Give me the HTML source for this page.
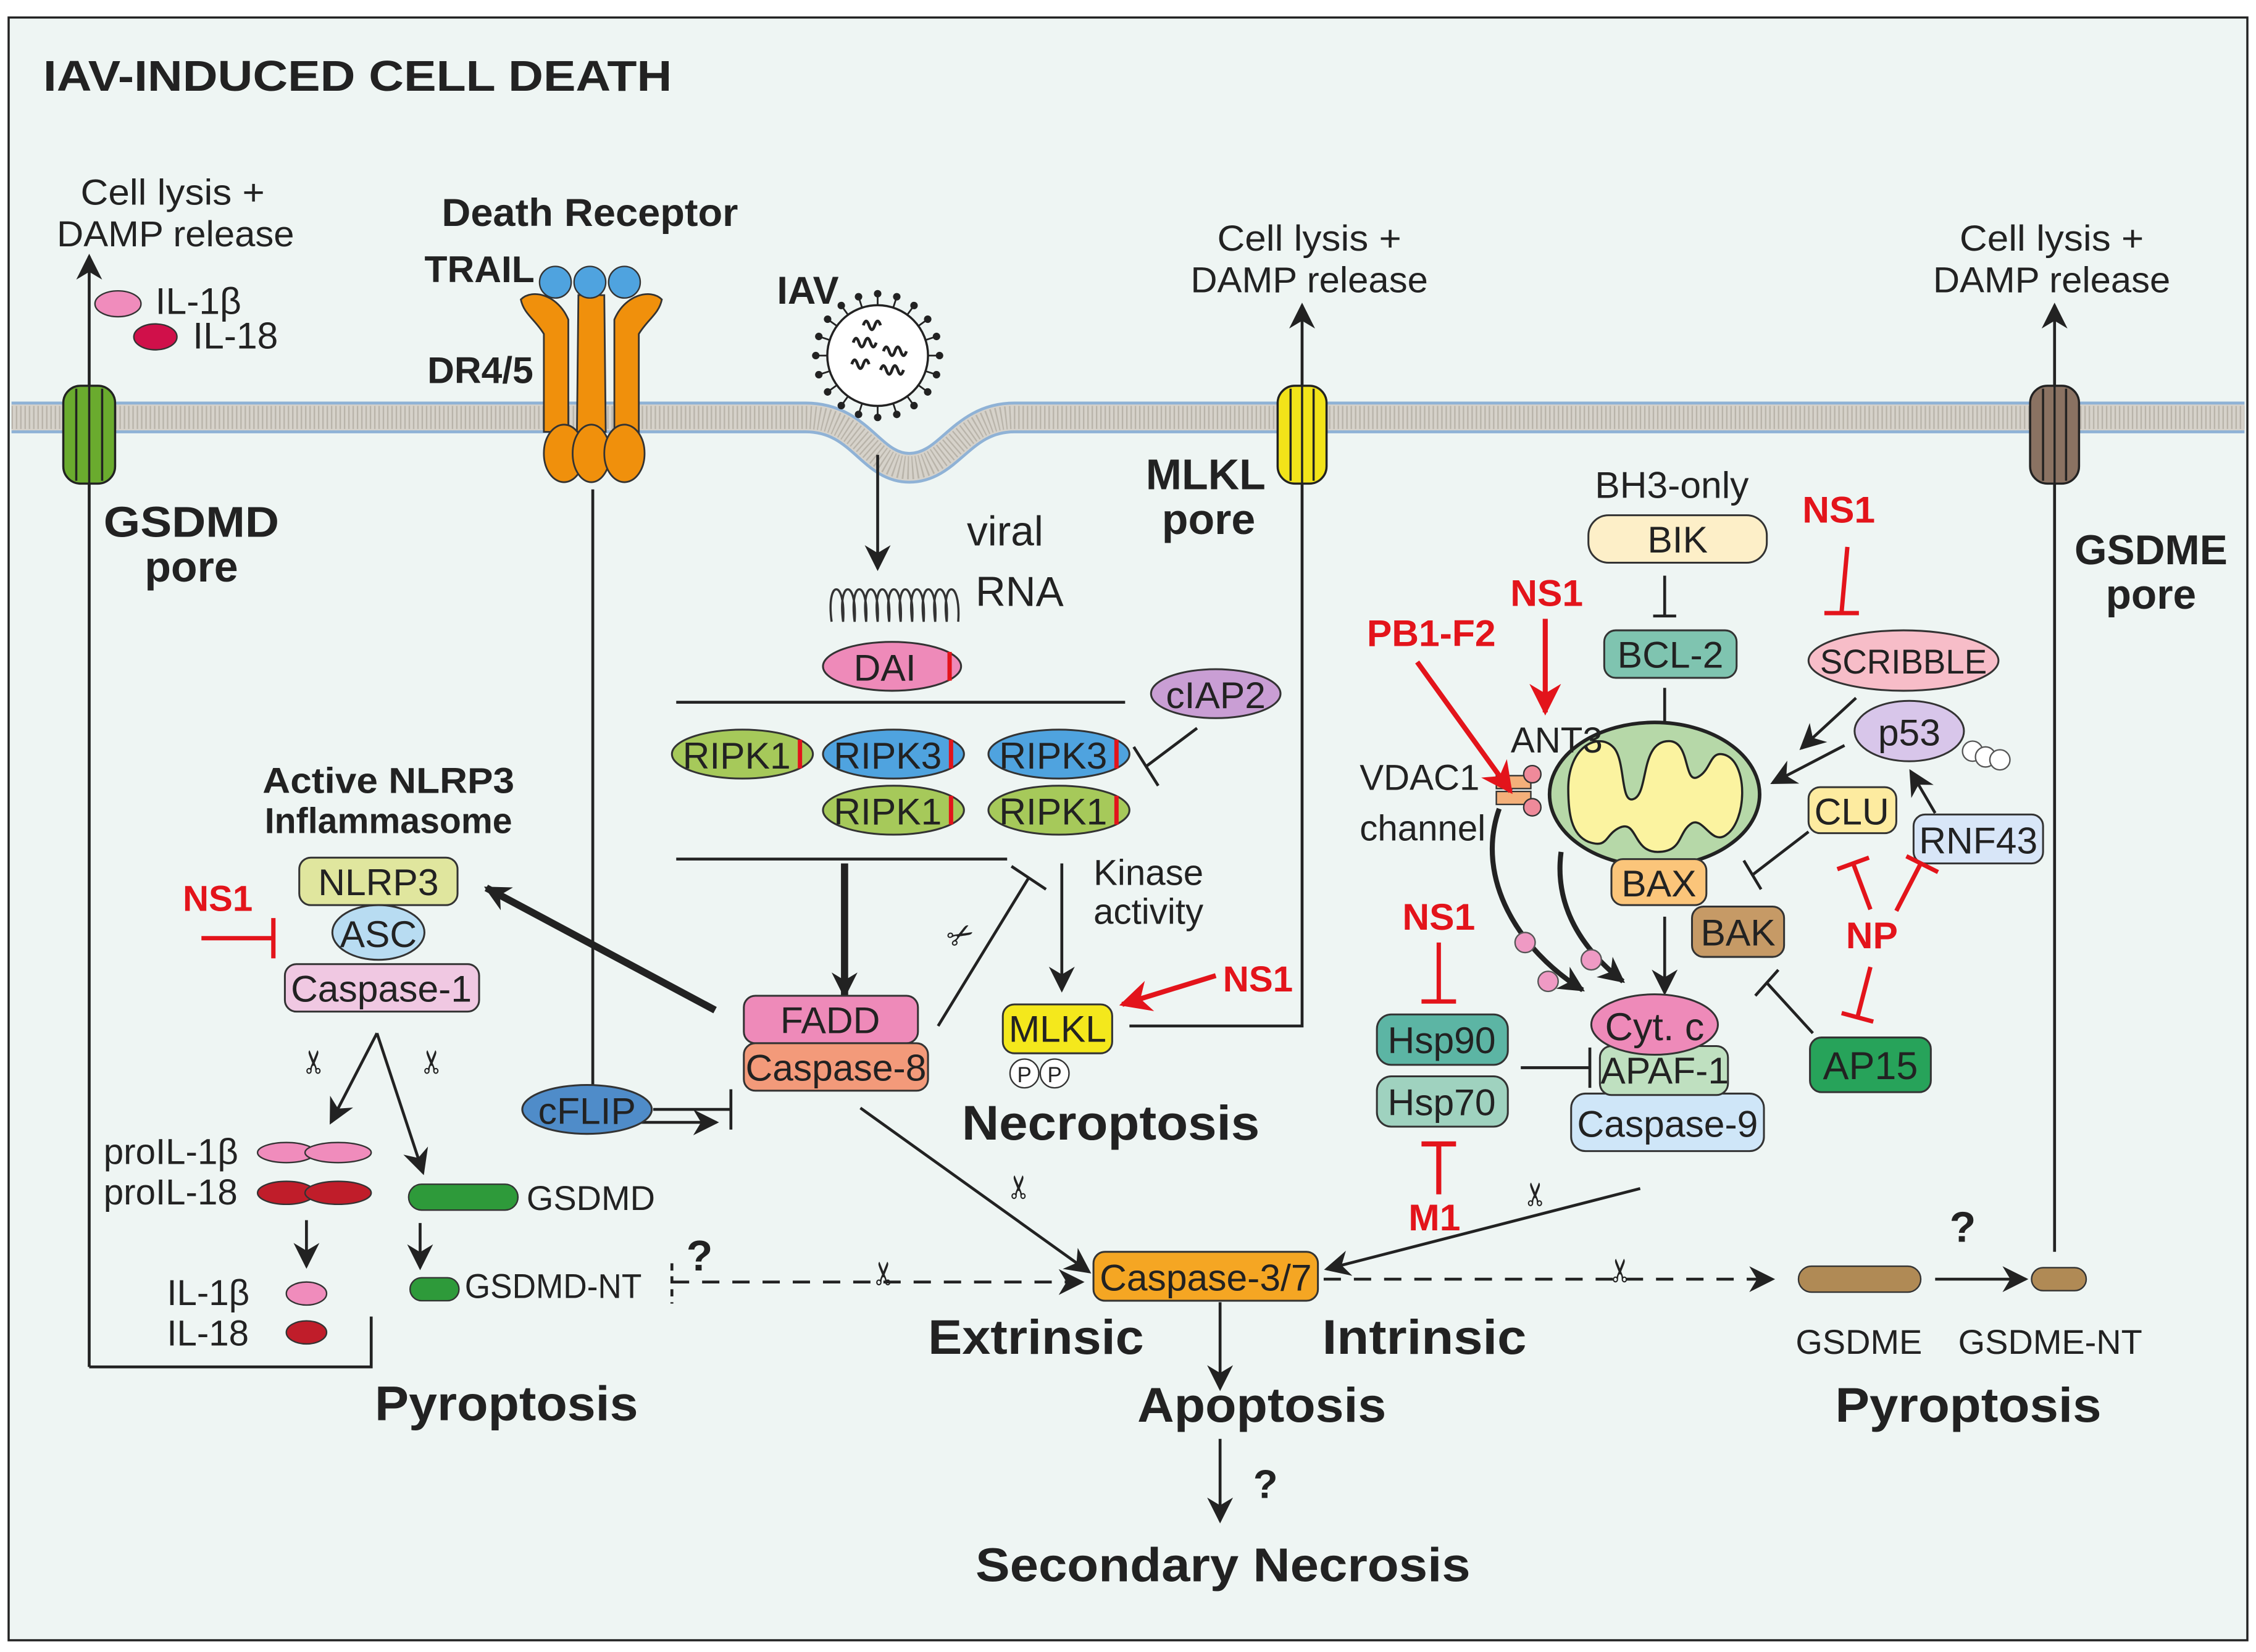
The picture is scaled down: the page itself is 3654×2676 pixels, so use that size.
<!DOCTYPE html>
<html><head><meta charset="utf-8"><style>
html,body{margin:0;padding:0;background:#fff}
svg{display:block}
text{font-family:"Liberation Sans Narrow","Liberation Sans",sans-serif;fill:#222}
.b{font-family:"Liberation Sans",sans-serif;font-weight:bold}
.r{fill:#e3141b;font-family:"Liberation Sans",sans-serif;font-weight:bold}
</style></head><body>
<svg width="3654" height="2676" viewBox="0 0 1568 1148" xmlns="http://www.w3.org/2000/svg">
<defs>
<marker id="A" viewBox="0 0 10 10" refX="9" refY="5" markerWidth="18" markerHeight="18" orient="auto" markerUnits="userSpaceOnUse"><path d="M0,0 L10,5 L0,10 L3,5 z" fill="#222"/></marker>
<marker id="R" viewBox="0 0 10 10" refX="9" refY="5" markerWidth="22" markerHeight="22" orient="auto" markerUnits="userSpaceOnUse"><path d="M0,0 L10,5 L0,10 L3,5 z" fill="#e3141b"/></marker>
</defs>
<rect x="0" y="0" width="1568" height="1148" fill="#fff"/>
<rect x="6" y="12" width="1556" height="1128" fill="#eef5f3" stroke="#222" stroke-width="1.5"/>
<text x="30" y="63" class="b" font-size="30" textLength="437" lengthAdjust="spacingAndGlyphs">IAV-INDUCED CELL DEATH</text>

<!-- membrane -->
<path d="M8,290 H560 C598,290 605,325 632,325 C660,325 668,290 705,290 H1560" fill="none" stroke="#8fb2d6" stroke-width="22"/>
<path d="M8,290 H560 C598,290 605,325 632,325 C660,325 668,290 705,290 H1560" fill="none" stroke="#d6d2ca" stroke-width="18"/>
<path d="M8,290 H560 C598,290 605,325 632,325 C660,325 668,290 705,290 H1560" fill="none" stroke="#b9b4aa" stroke-width="16" stroke-dasharray="1 2"/>

<g font-size="25" text-anchor="middle">
<text x="120" y="142" textLength="128" lengthAdjust="spacingAndGlyphs">Cell lysis +</text><text x="122" y="171" textLength="165" lengthAdjust="spacingAndGlyphs">DAMP release</text>
<text x="910" y="174" textLength="128" lengthAdjust="spacingAndGlyphs">Cell lysis +</text><text x="910" y="203" textLength="165" lengthAdjust="spacingAndGlyphs">DAMP release</text>
<text x="1426" y="174" textLength="128" lengthAdjust="spacingAndGlyphs">Cell lysis +</text><text x="1426" y="203" textLength="165" lengthAdjust="spacingAndGlyphs">DAMP release</text>
</g>
<ellipse cx="82" cy="211" rx="16" ry="9" fill="#f08cbc" stroke="#333"/>
<text x="108" y="218" font-size="26">IL-1β</text>
<ellipse cx="108" cy="234" rx="15" ry="9" fill="#d0104a" stroke="#333"/>
<text x="134" y="242" font-size="26">IL-18</text>

<g stroke="#222" stroke-width="2" fill="none">
<path d="M62,950 V178" marker-end="url(#A)"/>
<path d="M62,950 H258 V915"/>
<path d="M785,713 H905 V212" marker-end="url(#A)"/>
<path d="M1428,870 V212" marker-end="url(#A)"/>
<path d="M412,340 V780 H498" marker-end="url(#A)"/>
</g>

<g stroke="#222" stroke-width="1.5">
<rect x="44" y="268" width="36" height="68" rx="12" fill="#6aab2e"/>
<path d="M53,270V334M62,268V336M71,270V334" fill="none"/>
<rect x="888" y="268" width="34" height="68" rx="12" fill="#f2e319"/>
<path d="M897,270V334M905,268V336M913,270V334" fill="none"/>
<rect x="1411" y="268" width="34" height="68" rx="12" fill="#8a7262"/>
<path d="M1420,270V334M1428,268V336M1436,270V334" fill="none"/>
</g>
<text x="133" y="373" class="b" font-size="30" text-anchor="middle" textLength="122" lengthAdjust="spacingAndGlyphs">GSDMD</text>
<text x="133" y="404" class="b" font-size="30" text-anchor="middle">pore</text>
<text x="838" y="340" class="b" font-size="30" text-anchor="middle">MLKL</text>
<text x="840" y="371" class="b" font-size="30" text-anchor="middle">pore</text>
<text x="1495" y="392" class="b" font-size="29" text-anchor="middle">GSDME</text>
<text x="1495" y="423" class="b" font-size="29" text-anchor="middle">pore</text>

<text x="410" y="157" class="b" font-size="27" text-anchor="middle" textLength="206" lengthAdjust="spacingAndGlyphs">Death Receptor</text>
<text x="295" y="196" class="b" font-size="26">TRAIL</text>
<text x="297" y="266" class="b" font-size="26">DR4/5</text>
<g fill="#f0900c" stroke="#333" stroke-width="1.2">
<path d="M362,208 C370,200 388,205 395,222 L395,300 L378,300 L378,232 C372,222 364,218 362,208z"/>
<path d="M460,208 C452,200 434,205 427,222 L427,300 L444,300 L444,232 C450,222 458,218 460,208z"/>
<path d="M402,205 L420,205 L421,300 L401,300z"/>
<ellipse cx="392" cy="315" rx="14" ry="20"/><ellipse cx="411" cy="315" rx="13" ry="20"/><ellipse cx="434" cy="315" rx="14" ry="20"/>
</g>
<g fill="#4fa3df" stroke="#333"><circle cx="386" cy="196" r="11"/><circle cx="410" cy="196" r="11"/><circle cx="434" cy="196" r="11"/></g>

<text x="540" y="211" class="b" font-size="27">IAV</text>
<g stroke="#222" stroke-width="1.2" fill="#222">
<circle cx="610" cy="247" r="35" fill="#fff" stroke-width="1.5"/>
<g id="sp"><line x1="610" y1="205" x2="610" y2="212"/><circle cx="610" cy="204" r="2"/></g>
<use href="#sp" transform="rotate(18 610 247)"/><use href="#sp" transform="rotate(36 610 247)"/><use href="#sp" transform="rotate(54 610 247)"/><use href="#sp" transform="rotate(72 610 247)"/><use href="#sp" transform="rotate(90 610 247)"/><use href="#sp" transform="rotate(108 610 247)"/><use href="#sp" transform="rotate(126 610 247)"/><use href="#sp" transform="rotate(144 610 247)"/><use href="#sp" transform="rotate(162 610 247)"/><use href="#sp" transform="rotate(180 610 247)"/><use href="#sp" transform="rotate(198 610 247)"/><use href="#sp" transform="rotate(216 610 247)"/><use href="#sp" transform="rotate(234 610 247)"/><use href="#sp" transform="rotate(252 610 247)"/><use href="#sp" transform="rotate(270 610 247)"/><use href="#sp" transform="rotate(288 610 247)"/><use href="#sp" transform="rotate(306 610 247)"/><use href="#sp" transform="rotate(324 610 247)"/><use href="#sp" transform="rotate(342 610 247)"/>
<path d="M593,238 q2,-6 4,0 q2,6 4,0 q2,-6 4,0 q2,6 4,0 M600,226 q2,-6 4,0 q2,6 4,0 q2,-6 4,0 M614,244 q2,-6 4,0 q2,6 4,0 q2,-6 4,0 q2,6 4,0 M592,253 q2,-6 4,0 q2,6 4,0 q2,-6 4,0 M612,257 q2,-6 4,0 q2,6 4,0 q2,-6 4,0 q2,6 4,0" fill="none" stroke-width="2"/>
</g>
<path d="M610,316 V395" stroke="#222" stroke-width="2" marker-end="url(#A)"/>
<text x="672" y="379" font-size="29">viral</text>
<text x="678" y="421" font-size="29">RNA</text>
<path d="M578,432 c-4,-30 10,-30 8,0 c-4,-30 10,-30 8,0 c-4,-30 10,-30 8,0 c-4,-30 10,-30 8,0 c-4,-30 10,-30 8,0 c-4,-30 10,-30 8,0 c-4,-30 10,-30 8,0 c-4,-30 10,-30 8,0 c-4,-30 10,-30 8,0 c-4,-30 10,-30 8,0 c-4,-30 10,-30 8,0" fill="none" stroke="#333" stroke-width="1.5"/>
<ellipse cx="620" cy="463" rx="48" ry="17" fill="#ee8ab9" stroke="#333" stroke-width="1.3"/>
<line x1="660" y1="453" x2="660" y2="473" stroke="#e3141b" stroke-width="3"/>
<text x="615" y="473" font-size="26" text-anchor="middle">DAI</text>

<line x1="470" y1="488" x2="782" y2="488" stroke="#222" stroke-width="2"/>
<line x1="470" y1="597" x2="700" y2="597" stroke="#222" stroke-width="2"/>

<g stroke="#333" stroke-width="1.3">
<ellipse cx="516" cy="524" rx="49" ry="17" fill="#a6c95a"/>
<ellipse cx="621" cy="524" rx="49" ry="17" fill="#4fa3df"/>
<ellipse cx="736" cy="524" rx="49" ry="17" fill="#4fa3df"/>
<ellipse cx="621" cy="563" rx="49" ry="17" fill="#a6c95a"/>
<ellipse cx="736" cy="563" rx="49" ry="17" fill="#a6c95a"/>
</g>
<g stroke="#e3141b" stroke-width="3"><line x1="556" y1="514" x2="556" y2="534"/><line x1="661" y1="514" x2="661" y2="534"/><line x1="776" y1="514" x2="776" y2="534"/><line x1="661" y1="553" x2="661" y2="573"/><line x1="776" y1="553" x2="776" y2="573"/></g>
<g font-size="26" text-anchor="middle"><text x="512" y="534">RIPK1</text><text x="617" y="534">RIPK3</text><text x="732" y="534">RIPK3</text><text x="617" y="573">RIPK1</text><text x="732" y="573">RIPK1</text></g>
<ellipse cx="845" cy="482" rx="45" ry="17" fill="#c99ed4" stroke="#333" stroke-width="1.3"/>
<text x="845" y="492" font-size="26" text-anchor="middle">cIAP2</text>
<g stroke="#222" stroke-width="2" fill="none">
<path d="M832,506 L796,533"/><path d="M788,519 L805,546"/>
<path d="M587,600 V692" stroke-width="5" marker-end="url(#A)"/>
<path d="M652,713 L715,610"/><path d="M703,602 L727,618"/>
<path d="M738,600 V688" marker-end="url(#A)"/>
</g>
<text x="760" y="615" font-size="25">Kinase</text>
<text x="760" y="642" font-size="25">activity</text>
<text x="660" y="662" font-size="22" transform="rotate(-30 660 655)">✂</text>

<rect x="697" y="698" width="76" height="34" rx="8" fill="#f4e81c" stroke="#333" stroke-width="1.3"/>
<text x="735" y="724" font-size="26" text-anchor="middle">MLKL</text>
<circle cx="712" cy="746" r="10" fill="#fff" stroke="#333"/><circle cx="733" cy="746" r="10" fill="#fff" stroke="#333"/>
<text x="712" y="752" font-size="15" text-anchor="middle">P</text><text x="733" y="752" font-size="15" text-anchor="middle">P</text>
<text x="772" y="792" class="b" font-size="34" text-anchor="middle" textLength="207" lengthAdjust="spacingAndGlyphs">Necroptosis</text>
<path d="M845,678 L780,698" stroke="#e3141b" stroke-width="3.5" marker-end="url(#R)"/>
<text x="850" y="689" class="r" font-size="25">NS1</text>

<text x="270" y="551" class="b" font-size="25" text-anchor="middle" textLength="175" lengthAdjust="spacingAndGlyphs">Active NLRP3</text>
<text x="270" y="579" class="b" font-size="25" text-anchor="middle" textLength="172" lengthAdjust="spacingAndGlyphs">Inflammasome</text>
<rect x="208" y="596" width="110" height="33" rx="8" fill="#e0e69e" stroke="#333" stroke-width="1.3"/>
<ellipse cx="263" cy="648" rx="32" ry="19" fill="#b8dcf2" stroke="#333" stroke-width="1.3"/>
<rect x="198" y="670" width="135" height="33" rx="8" fill="#f0c8e2" stroke="#333" stroke-width="1.3"/>
<g font-size="26" text-anchor="middle"><text x="263" y="622">NLRP3</text><text x="263" y="658">ASC</text><text x="265" y="696">Caspase-1</text></g>
<text x="127" y="633" class="r" font-size="25">NS1</text>
<path d="M140,652 H190 M190,638 V666" stroke="#e3141b" stroke-width="3" fill="none"/>
<path d="M497,702 L338,617" stroke="#222" stroke-width="5" marker-end="url(#A)"/>
<g stroke="#222" stroke-width="2" fill="none">
<path d="M262,718 L230,780" marker-end="url(#A)"/>
<path d="M262,718 L294,815" marker-end="url(#A)"/>
<path d="M213,848 V880" marker-end="url(#A)"/>
<path d="M292,850 V881" marker-end="url(#A)"/>
</g>
<text x="218" y="746" font-size="22" text-anchor="middle" transform="rotate(-90 218 738)">✂</text>
<text x="300" y="746" font-size="22" text-anchor="middle" transform="rotate(-90 300 738)">✂</text>
<text x="72" y="809" font-size="25">proIL-1β</text>
<text x="72" y="837" font-size="25">proIL-18</text>
<g stroke="#333"><ellipse cx="199" cy="801" rx="20" ry="7" fill="#f08cbc"/><ellipse cx="235" cy="801" rx="23" ry="7" fill="#f08cbc"/>
<ellipse cx="199" cy="829" rx="20" ry="8" fill="#c01d2a"/><ellipse cx="235" cy="829" rx="23" ry="8" fill="#c01d2a"/>
<ellipse cx="213" cy="899" rx="14" ry="8" fill="#f08cbc"/><ellipse cx="213" cy="926" rx="14" ry="8" fill="#c01d2a"/>
<rect x="284" y="823" width="76" height="18" rx="9" fill="#2e9a3a"/>
<rect x="285" y="888" width="34" height="16" rx="8" fill="#2e9a3a"/>
<rect x="1250" y="880" width="85" height="18" rx="9" fill="#b08a55"/>
<rect x="1412" y="881" width="38" height="16" rx="8" fill="#b08a55"/></g>
<text x="116" y="907" font-size="25">IL-1β</text>
<text x="116" y="935" font-size="25">IL-18</text>
<text x="366" y="841" font-size="24">GSDMD</text>
<text x="323" y="902" font-size="24" textLength="123" lengthAdjust="spacingAndGlyphs">GSDMD-NT</text>
<text x="477" y="883" class="b" font-size="30">?</text>
<path d="M467,878 V906" stroke="#222" stroke-width="2" stroke-dasharray="5 4"/>
<path d="M467,891 H752" stroke="#222" stroke-width="2" stroke-dasharray="12 9" marker-end="url(#A)"/>
<text x="613" y="894" font-size="22" text-anchor="middle" transform="rotate(-90 613 885)">✂</text>
<text x="352" y="987" class="b" font-size="34" text-anchor="middle" textLength="183" lengthAdjust="spacingAndGlyphs">Pyroptosis</text>

<rect x="517" y="692" width="121" height="33" rx="8" fill="#ee8ab9" stroke="#333" stroke-width="1.3"/>
<rect x="517" y="725" width="128" height="33" rx="8" fill="#f39a7a" stroke="#333" stroke-width="1.3"/>
<text x="577" y="718" font-size="26" text-anchor="middle">FADD</text>
<text x="581" y="751" font-size="26" text-anchor="middle">Caspase-8</text>
<ellipse cx="408" cy="771" rx="45" ry="17" fill="#4f8cc9" stroke="#333" stroke-width="1.3"/>
<text x="408" y="781" font-size="26" text-anchor="middle">cFLIP</text>
<g stroke="#222" stroke-width="2" fill="none">
<path d="M454,771 H508 M508,757 V785"/>
<path d="M598,770 L757,884" marker-end="url(#A)"/>
<path d="M848,905 V965" marker-end="url(#A)"/>
<path d="M848,1000 V1057" marker-end="url(#A)"/>
<path d="M1345,889 H1408" marker-end="url(#A)"/>
<path d="M1140,826 L922,882" marker-end="url(#A)"/>
</g>
<text x="707" y="834" font-size="22" text-anchor="middle" transform="rotate(-90 707 825)">✂</text>
<text x="1066" y="839" font-size="22" text-anchor="middle" transform="rotate(-90 1066 830)">✂</text>
<path d="M920,889 H1232" stroke="#222" stroke-width="2" stroke-dasharray="12 9" marker-end="url(#A)"/>
<text x="1125" y="892" font-size="22" text-anchor="middle" transform="rotate(-90 1125 883)">✂</text>
<rect x="760" y="870" width="156" height="34" rx="8" fill="#f5a623" stroke="#333" stroke-width="1.3"/>
<text x="838" y="897" font-size="26" text-anchor="middle">Caspase-3/7</text>
<text x="720" y="941" class="b" font-size="34" text-anchor="middle" textLength="150" lengthAdjust="spacingAndGlyphs">Extrinsic</text>
<text x="990" y="941" class="b" font-size="34" text-anchor="middle" textLength="142" lengthAdjust="spacingAndGlyphs">Intrinsic</text>
<text x="877" y="988" class="b" font-size="34" text-anchor="middle" textLength="173" lengthAdjust="spacingAndGlyphs">Apoptosis</text>
<text x="871" y="1041" class="b" font-size="28">?</text>
<text x="850" y="1099" class="b" font-size="33" text-anchor="middle" textLength="344" lengthAdjust="spacingAndGlyphs">Secondary Necrosis</text>
<text x="1355" y="863" class="b" font-size="30">?</text>
<text x="1292" y="941" font-size="24" text-anchor="middle">GSDME</text>
<text x="1425" y="941" font-size="24" text-anchor="middle">GSDME-NT</text>
<text x="1368" y="988" class="b" font-size="34" text-anchor="middle" textLength="185" lengthAdjust="spacingAndGlyphs">Pyroptosis</text>

<text x="1162" y="346" font-size="26" text-anchor="middle">BH3-only</text>
<rect x="1104" y="358" width="124" height="33" rx="14" fill="#fdefc8" stroke="#333" stroke-width="1.3"/>
<text x="1166" y="384" font-size="26" text-anchor="middle">BIK</text>
<rect x="1115" y="438" width="92" height="33" rx="8" fill="#7fc4b0" stroke="#333" stroke-width="1.3"/>
<text x="1161" y="464" font-size="26" text-anchor="middle">BCL-2</text>
<g stroke="#222" stroke-width="2" fill="none">
<path d="M1157,400 V428 M1149,428 H1165"/>
<path d="M1157,478 V505 M1149,505 H1165"/>
<path d="M1290,485 L1252,520" marker-end="url(#A)"/>
<path d="M1282,518 L1232,544" marker-end="url(#A)"/>
<path d="M1345,565 L1328,536" marker-end="url(#A)"/>
<path d="M1257,578 L1218,608 M1212,598 L1224,618"/>
<path d="M1260,718 L1228,683 M1220,692 L1236,674"/>
<path d="M1157,637 V690" marker-end="url(#A)"/>
<path d="M1057,742 H1105 M1105,728 V756"/>
<path d="M1042,562 C1025,610 1055,660 1100,688" stroke-width="3.5" marker-end="url(#A)"/>
<path d="M1085,592 C1080,630 1100,660 1128,682" stroke-width="3.5" marker-end="url(#A)"/>
</g>
<text x="1278" y="363" class="r" font-size="26" text-anchor="middle">NS1</text>
<path d="M1284,380 L1280,425 M1268,426 H1292" stroke="#e3141b" stroke-width="3" fill="none"/>
<ellipse cx="1323" cy="459" rx="66" ry="21" fill="#f7bdc8" stroke="#333" stroke-width="1.3"/>
<text x="1323" y="468" font-size="24" text-anchor="middle" textLength="116" lengthAdjust="spacingAndGlyphs">SCRIBBLE</text>
<circle cx="1371" cy="522" r="7" fill="#fff" stroke="#555"/><circle cx="1380" cy="526" r="7" fill="#fff" stroke="#555"/><circle cx="1390" cy="528" r="7" fill="#fff" stroke="#555"/>
<ellipse cx="1327" cy="508" rx="38" ry="21" fill="#d8c6ea" stroke="#333" stroke-width="1.3"/>
<text x="1327" y="518" font-size="26" text-anchor="middle">p53</text>
<ellipse cx="1150" cy="552" rx="73" ry="50" fill="#b6d8a8" stroke="#222" stroke-width="2.5"/>
<path d="M1090,548 C1090,518 1112,508 1122,520 C1130,530 1126,560 1136,555 C1146,550 1140,515 1160,515 C1175,515 1170,545 1180,540 C1190,535 1188,520 1200,525 C1215,532 1214,570 1200,580 C1190,588 1184,568 1176,572 C1166,578 1170,592 1152,592 C1135,592 1138,570 1126,575 C1115,580 1118,590 1104,585 C1092,580 1090,565 1090,548z" fill="#fbf3a0" stroke="#222" stroke-width="1.5"/>
<g stroke="#333" stroke-width="1"><rect x="1040" y="539" width="24" height="9" fill="#f4b07a"/><rect x="1040" y="550" width="24" height="9" fill="#f4b07a"/><circle cx="1065" cy="538" r="6" fill="#ef8a9a"/><circle cx="1065" cy="561" r="6" fill="#ef8a9a"/></g>
<text x="945" y="549" font-size="25">VDAC1</text>
<text x="945" y="584" font-size="25">channel</text>
<text x="1050" y="523" font-size="25">ANT3</text>
<text x="950" y="449" class="r" font-size="26">PB1-F2</text>
<path d="M985,460 L1050,550" stroke="#e3141b" stroke-width="3.5" marker-end="url(#R)"/>
<text x="1075" y="421" class="r" font-size="26" text-anchor="middle">NS1</text>
<path d="M1074,430 V495" stroke="#e3141b" stroke-width="3.5" marker-end="url(#R)"/>
<rect x="1257" y="547" width="61" height="32" rx="8" fill="#fdeba0" stroke="#333" stroke-width="1.3"/>
<text x="1287" y="573" font-size="26" text-anchor="middle">CLU</text>
<rect x="1330" y="566" width="90" height="34" rx="8" fill="#d8e6f8" stroke="#333" stroke-width="1.3"/>
<text x="1375" y="593" font-size="26" text-anchor="middle">RNF43</text>
<rect x="1120" y="597" width="66" height="32" rx="8" fill="#fbc57a" stroke="#333" stroke-width="1.3"/>
<text x="1153" y="623" font-size="26" text-anchor="middle">BAX</text>
<rect x="1176" y="630" width="64" height="35" rx="8" fill="#c69a66" stroke="#333" stroke-width="1.3"/>
<text x="1208" y="657" font-size="26" text-anchor="middle">BAK</text>
<text x="1301" y="659" class="r" font-size="26" text-anchor="middle">NP</text>
<path d="M1300,632 L1288,600 M1277,604 L1299,596 M1318,633 L1335,600 M1325,595 L1347,606 M1300,672 L1291,707 M1280,704 L1302,710" stroke="#e3141b" stroke-width="3" fill="none"/>
<rect x="1258" y="721" width="84" height="38" rx="8" fill="#27a35a" stroke="#333" stroke-width="1.3"/>
<text x="1300" y="750" font-size="27" text-anchor="middle">AP15</text>
<g fill="#ef9ac4" stroke="#555"><circle cx="1060" cy="655" r="7"/><circle cx="1076" cy="682" r="7"/><circle cx="1106" cy="667" r="7"/></g>
<rect x="1092" y="760" width="134" height="40" rx="10" fill="#cfe6f8" stroke="#333" stroke-width="1.3"/>
<rect x="1112" y="727" width="89" height="34" rx="8" fill="#bfe0c0" stroke="#333" stroke-width="1.3"/>
<ellipse cx="1150" cy="712" rx="44" ry="21" fill="#ee8ab9" stroke="#333" stroke-width="1.3"/>
<text x="1150" y="723" font-size="27" text-anchor="middle">Cyt. c</text>
<text x="1157" y="753" font-size="26" text-anchor="middle">APAF-1</text>
<text x="1159" y="790" font-size="26" text-anchor="middle">Caspase-9</text>
<text x="1000" y="646" class="r" font-size="26" text-anchor="middle">NS1</text>
<path d="M1000,655 V696 M988,696 H1012" stroke="#e3141b" stroke-width="3" fill="none"/>
<rect x="957" y="705" width="91" height="35" rx="10" fill="#5cb5a4" stroke="#333" stroke-width="1.3"/>
<rect x="957" y="748" width="91" height="35" rx="10" fill="#9fd2bf" stroke="#333" stroke-width="1.3"/>
<text x="1002" y="732" font-size="26" text-anchor="middle">Hsp90</text>
<text x="1002" y="775" font-size="26" text-anchor="middle">Hsp70</text>
<path d="M1000,830 V795 M988,795 H1012" stroke="#e3141b" stroke-width="3.5" fill="none"/>
<text x="997" y="855" class="r" font-size="26" text-anchor="middle">M1</text>
</svg>
</body></html>
